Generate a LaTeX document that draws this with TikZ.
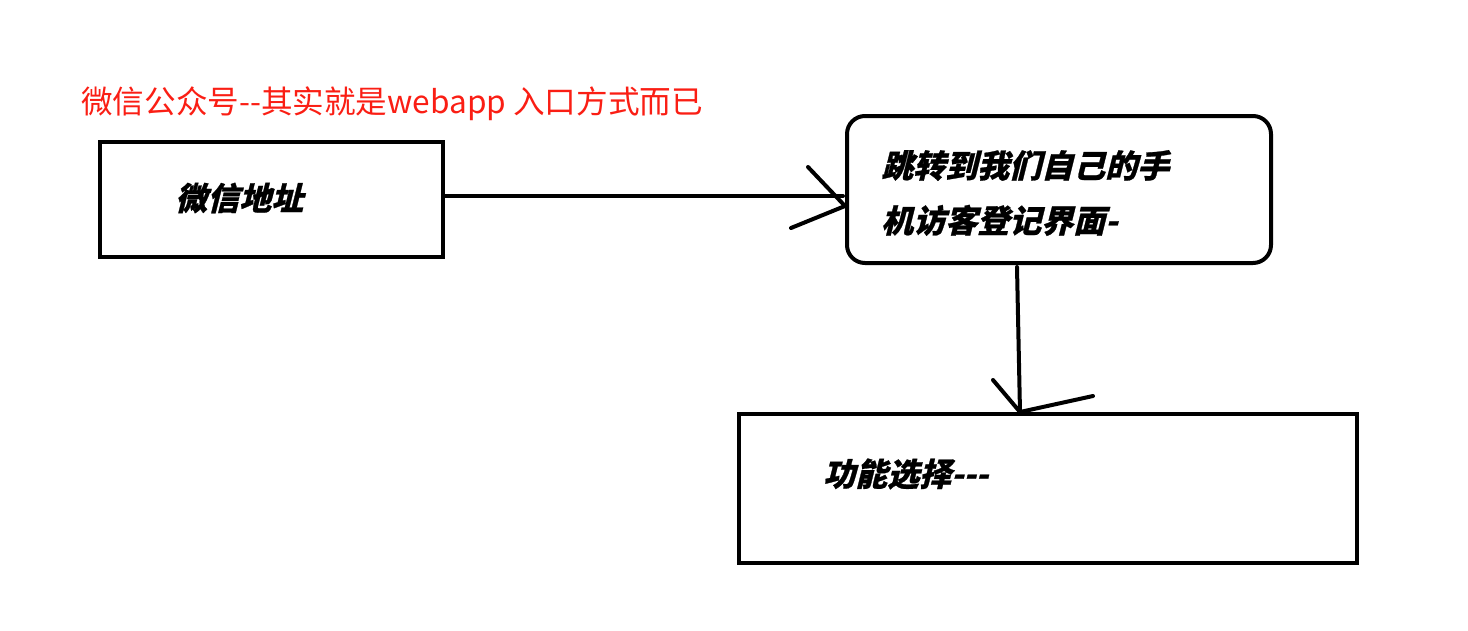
\documentclass[tikz,border=0pt]{standalone}
\usepackage{fontspec}
\newfontfamily\cjk{Noto Sans CJK SC}
\newfontfamily\cjkbi[BoldFeatures={FakeSlant=0.25,FakeBold=0.8}]{Noto Sans CJK SC}
\usetikzlibrary{calc}

\tikzset{
    box/.style={draw, line width=4pt, inner sep=0pt},
    boxtext/.style={font=\cjkbi\bfseries\fontsize{32}{55}\selectfont, anchor=west, inner sep=0pt, align=left},
    link/.style={line width=4pt, line cap=round}
}

\begin{document}
\begin{tikzpicture}[x=1pt, y=-1pt]
    \useasboundingbox (0,0) rectangle (1468,630);

    % boxes
    \node[box, minimum width=343pt, minimum height=115pt] (addr) at (271.5,199.5) {};
    \node[box, rounded corners=18pt, minimum width=424pt, minimum height=147pt] (visit) at (1059,189.5) {};
    \node[box, minimum width=618pt, minimum height=149pt] (func) at (1048,488.5) {};

    % texts
    \node[font=\cjk\fontsize{31.6}{31.6}\selectfont, text={rgb,255:red,250;green,30;blue,20}, anchor=west, inner sep=0pt] (title) at (81,104) {微信公众号--其实就是webapp 入口方式而已};
    \node[boxtext] (addrtxt) at (175,198) {微信地址};
    \node[boxtext] (visittxt) at (881,193) {跳转到我们自己的手\\机访客登记界面-};
    \node[boxtext] (functxt) at (823,474) {功能选择---};

    % connectors with hand drawn heads
    \coordinate (tipA) at ($(visit.west)+(0,16.5)$);
    \coordinate (tipB) at ($(func.north)+(-28,0)$);
    \draw[link] ($(addr.east)+(0,-3.5)$) -- ($(visit.west)+(-2,6.5)$);
    \draw[link] ($(tipA)+(-37,-39)$) -- (tipA) -- ($(tipA)+(-54,22)$);
    \draw[link] ($(visit.south)+(-42,2)$) -- (tipB);
    \draw[link] ($(tipB)+(-27,-32)$) -- (tipB) -- ($(tipB)+(73,-16)$);
\end{tikzpicture}
\end{document}
